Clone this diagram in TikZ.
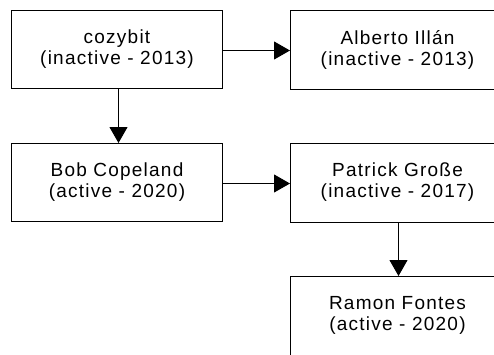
\documentclass[tikz,border=0pt]{standalone}
\usepackage{fontspec}
\setmainfont{Liberation Sans}[LetterSpace=6.5]
\usetikzlibrary{arrows.meta}
\tikzset{
  person/.style={line width=1pt, minimum height=78pt,
    align=center, inner sep=0pt,
    font=\fontsize{19}{21}\selectfont},
  leftbox/.style={person, draw=black, minimum width=211pt},
  rightbox/.style={person, minimum width=214pt},
  frame/.style={draw=black, line width=1pt},
  link/.style={line width=1pt, -{Triangle[length=16pt,width=18pt]}}
}
\begin{document}
\begin{tikzpicture}[x=1pt,y=-1pt]
  \useasboundingbox (0,0) rectangle (494,354);
  \clip (0,0) rectangle (494,354);
  \node[leftbox]  (cozybit) at (117,49.5)    {cozybit\\(inactive - 2013)};
  \node[rightbox] (alberto) at (397.5,49.5)  {Alberto Illán\\(inactive - 2013)};
  \node[leftbox]  (bob)     at (117,182.5)   {Bob Copeland\\(active - 2020)};
  \node[rightbox] (patrick) at (397.5,182.5) {Patrick Große\\(inactive - 2017)};
  \node[rightbox] (ramon)   at (397.5,315.5) {Ramon Fontes\\(active - 2020)};
  % boxes on the right run past the edge of the page
  \draw[frame] (alberto.north east) -- (alberto.north west)
    -- (alberto.south west) -- (alberto.south east);
  \draw[frame] (patrick.north east) -- (patrick.north west)
    -- (patrick.south west) -- (patrick.south east);
  \draw[frame] (ramon.south west) -- (ramon.north west) -- (ramon.north east);
  \draw[link] ([yshift=-1pt]cozybit.east) -- ([yshift=-1pt]alberto.west);
  \draw[link] ([xshift=1.5pt]cozybit.south) -- ([xshift=1.5pt]bob.north);
  \draw[link] ([yshift=-1pt]bob.east) -- ([yshift=-1pt]patrick.west);
  \draw[link] ([xshift=1pt]patrick.south) -- ([xshift=1pt]ramon.north);
\end{tikzpicture}
\end{document}
